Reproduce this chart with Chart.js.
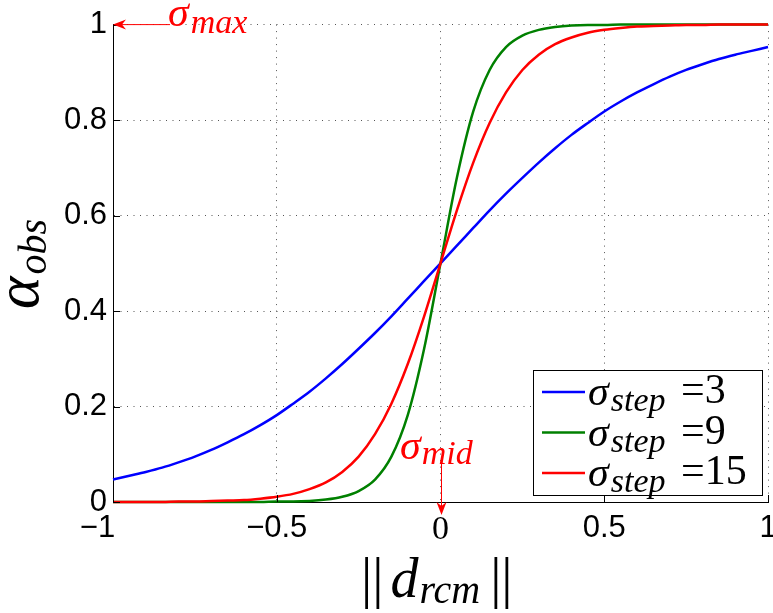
<!DOCTYPE html>
<html>
<head>
<meta charset="utf-8">
<title>alpha_obs vs ||d_rcm||</title>
<script src="https://cdn.jsdelivr.net/npm/chart.js@4.4.1/dist/chart.umd.min.js"></script>
<style>
    html, body { margin: 0; padding: 0; background: #fff; }
</style>
</head>
<body>
<canvas id="sigmoidChart" width="773" height="613"></canvas>
<script>
// Observation weight alpha_obs as a sigmoid of the normalised distance ||d_rcm||

const distances = [
    -1, -0.95, -0.9, -0.85, -0.8, -0.75, -0.7, -0.65, -0.6, -0.55, -0.5,
    -0.45, -0.4, -0.35, -0.3, -0.25, -0.2, -0.15, -0.1, -0.05, 0,
    0.05, 0.1, 0.15, 0.2, 0.25, 0.3, 0.35, 0.4, 0.45, 0.5,
    0.55, 0.6, 0.65, 0.7, 0.75, 0.8, 0.85, 0.9, 0.95, 1
];

const stepValues = [3, 9, 15];

// blue
const alphaStep3 = [
    0.047, 0.055, 0.063, 0.072, 0.083, 0.095, 0.109, 0.125, 0.142, 0.161, 0.182,
    0.206, 0.231, 0.259, 0.289, 0.321, 0.354, 0.389, 0.426, 0.463, 0.500,
    0.537, 0.574, 0.611, 0.646, 0.679, 0.711, 0.741, 0.769, 0.794, 0.818,
    0.839, 0.858, 0.875, 0.891, 0.905, 0.917, 0.928, 0.937, 0.945, 0.953
];

// green
const alphaStep9 = [
    0.000, 0.000, 0.000, 0.000, 0.000, 0.000, 0.000, 0.000, 0.000, 0.000, 0.001,
    0.001, 0.002, 0.005, 0.011, 0.023, 0.047, 0.095, 0.182, 0.321, 0.500,
    0.679, 0.818, 0.905, 0.953, 0.977, 0.989, 0.995, 0.998, 0.999, 0.999,
    1.000, 1.000, 1.000, 1.000, 1.000, 1.000, 1.000, 1.000, 1.000, 1.000
];

// red
const alphaStep15 = [
    0.000, 0.000, 0.000, 0.000, 0.001, 0.001, 0.002, 0.003, 0.004, 0.007, 0.011,
    0.017, 0.027, 0.041, 0.063, 0.095, 0.142, 0.206, 0.289, 0.389, 0.500,
    0.611, 0.711, 0.794, 0.858, 0.905, 0.937, 0.959, 0.973, 0.983, 0.989,
    0.993, 0.996, 0.997, 0.998, 0.999, 0.999, 1.000, 1.000, 1.000, 1.000
];

const xTicks = [-1, -0.5, 0, 0.5, 1];
const xTickLabels = ['\u22121\u2002\u2002', '\u22120.5', '0', '0.5', '1'];
const yTicks = [0, 0.2, 0.4, 0.6, 0.8, 1];
const yTickLabels = ['0', '0.2', '0.4', '0.6', '0.8', '1'];

const seriesColors = ['#0000ff', '#008000', '#ff0000'];

const SANS = 'Liberation Sans';
const SERIF = 'Liberation Serif';
const RED = '#ff0000';

// draws a run of text pieces left to right: [text, font, dy, dx]
function drawParts(ctx, parts, x, y) {
    let cx = x;
    parts.forEach(p => {
        ctx.font = p[1];
        cx += (p[3] || 0);
        ctx.fillText(p[0], cx, y + (p[2] || 0));
        cx += ctx.measureText(p[0]).width;
    });
}

function arrowHead(ctx, tipX, tipY, dirX, dirY) {
    // notched arrow head, length 13, half width 5
    const len = 13, half = 5, notch = 9;
    const px = -dirY, py = dirX;
    ctx.beginPath();
    ctx.moveTo(tipX, tipY);
    ctx.lineTo(tipX - dirX * len + px * half, tipY - dirY * len + py * half);
    ctx.lineTo(tipX - dirX * notch, tipY - dirY * notch);
    ctx.lineTo(tipX - dirX * len - px * half, tipY - dirY * len - py * half);
    ctx.closePath();
    ctx.fill();
}

const extrasPlugin = {
    id: 'extras',
    afterDraw(chart) {
        const ctx = chart.ctx;
        const xs = chart.scales.x;
        const ys = chart.scales.y;
        const area = chart.chartArea;

        ctx.save();

        // inward ticks
        ctx.strokeStyle = '#000';
        ctx.lineWidth = 1;
        ctx.beginPath();
        yTicks.forEach(v => {
            const py = Math.round(ys.getPixelForValue(v)) + 0.5;
            ctx.moveTo(area.left, py);
            ctx.lineTo(area.left + 7, py);
        });
        xTicks.forEach(v => {
            const px = Math.round(xs.getPixelForValue(v)) + 0.5;
            ctx.moveTo(px, area.bottom);
            ctx.lineTo(px, area.bottom - 7);
        });
        ctx.stroke();

        ctx.textAlign = 'left';
        ctx.textBaseline = 'alphabetic';

        // axis titles
        ctx.fillStyle = '#000';
        drawParts(ctx, [
            ['|', `56px ${SERIF}`],
            ['|', `56px ${SERIF}`, 0, 0],
            ['d', `italic 56px ${SERIF}`, 0, 7],
            ['rcm', `italic 40px ${SERIF}`, 6, 1],
            ['|', `56px ${SERIF}`, 0, 10],
            ['|', `56px ${SERIF}`]
        ], 361, 597);

        ctx.save();
        ctx.translate(38, 309);
        ctx.rotate(-Math.PI / 2);
        drawParts(ctx, [
            ['\u03b1', `italic 62px ${SERIF}`],
            ['obs', `italic 40px ${SERIF}`, 8, 2]
        ], 0, 0);
        ctx.restore();

        // sigma_max marker on the top-left corner
        ctx.fillStyle = RED;
        ctx.strokeStyle = RED;
        ctx.lineWidth = 1;
        const topY = ys.getPixelForValue(1);
        const leftX = xs.getPixelForValue(-1);
        ctx.beginPath();
        ctx.moveTo(leftX + 9, topY);
        ctx.lineTo(leftX + 57, topY);
        ctx.stroke();
        arrowHead(ctx, leftX, topY, -1, 0);
        drawParts(ctx, [
            ['\u03c3', `italic 42px ${SERIF}`],
            ['max', `italic 34px ${SERIF}`, 7, 2]
        ], 168, 26);

        // sigma_mid marker at the origin
        const midX = Math.round(xs.getPixelForValue(0)) + 0.5;
        const baseY = ys.getPixelForValue(0);
        ctx.beginPath();
        ctx.moveTo(midX, 462);
        ctx.lineTo(midX, baseY + 5);
        ctx.stroke();
        arrowHead(ctx, midX, baseY + 13, 0, 1);
        drawParts(ctx, [
            ['\u03c3', `italic 42px ${SERIF}`],
            ['mid', `italic 34px ${SERIF}`, 5, 1]
        ], 400, 459);

        // legend
        const box = { x: 533.5, y: 370.5, w: 229, h: 125 };
        ctx.fillStyle = '#fff';
        ctx.fillRect(box.x, box.y, box.w, box.h);
        ctx.strokeStyle = '#000';
        ctx.strokeRect(box.x, box.y, box.w, box.h);
        stepValues.forEach((s, i) => {
            const ly = 392 + i * 40.5;
            ctx.strokeStyle = seriesColors[i];
            ctx.lineWidth = 2.5;
            ctx.beginPath();
            ctx.moveTo(542, ly);
            ctx.lineTo(585, ly);
            ctx.stroke();
            ctx.fillStyle = '#000';
            drawParts(ctx, [
                ['\u03c3', `italic 42px ${SERIF}`],
                ['step', `italic 34px ${SERIF}`, 6, 2]
            ], 588, ly + 13);
            ctx.font = `42px ${SERIF}`;
            ctx.fillText('=' + s, 681, ly + 11);
        });

        ctx.restore();
    }
};

const seriesData = [alphaStep3, alphaStep9, alphaStep15];

const sigmoidChart = new Chart(document.getElementById('sigmoidChart'), {
    type: 'line',
    data: {
        datasets: seriesData.map((values, i) => ({
            label: '\u03c3 step =' + stepValues[i],
            data: distances.map((d, j) => ({ x: d, y: values[j] })),
            borderColor: seriesColors[i],
            borderWidth: 2.5,
            pointRadius: 0,
            fill: false,
            cubicInterpolationMode: 'monotone',
            clip: false,
            order: seriesData.length - i
        }))
    },
    options: {
        responsive: false,
        animation: false,
        layout: {
            padding: { top: 18, right: 5, left: 0, bottom: 0 }
        },
        plugins: {
            legend: { display: false },
            tooltip: { enabled: false }
        },
        scales: {
            x: {
                type: 'linear',
                min: -1,
                max: 1,
                afterBuildTicks: scale => {
                    scale.ticks = xTicks.map(v => ({ value: v }));
                },
                afterFit: scale => {
                    scale.height = 111;
                    scale.paddingLeft = 0;
                    scale.paddingRight = 0;
                },
                ticks: {
                    color: '#000',
                    padding: 8,
                    maxRotation: 0,
                    autoSkip: false,
                    font: ctx => (ctx.tick && ctx.tick.value === 0)
                        ? { family: SERIF, size: 34 }
                        : { family: SANS, size: 31 },
                    callback: (value, index) => xTickLabels[index]
                },
                grid: {
                    color: '#555',
                    lineWidth: 1,
                    drawTicks: false
                },
                border: {
                    display: true,
                    color: '#000',
                    width: 1,
                    dash: [1, 5.5]
                }
            },
            y: {
                type: 'linear',
                min: 0,
                max: 1,
                afterBuildTicks: scale => {
                    scale.ticks = yTicks.map(v => ({ value: v }));
                },
                afterFit: scale => {
                    scale.width = 113;
                },
                ticks: {
                    color: '#000',
                    padding: 6,
                    font: { family: SANS, size: 31 },
                    callback: (value, index) => yTickLabels[index]
                },
                grid: {
                    color: '#555',
                    lineWidth: 1,
                    drawTicks: false
                },
                border: {
                    display: true,
                    color: '#000',
                    width: 1,
                    dash: [1, 5.5]
                }
            }
        }
    },
    plugins: [extrasPlugin]
});
</script>
</body>
</html>
